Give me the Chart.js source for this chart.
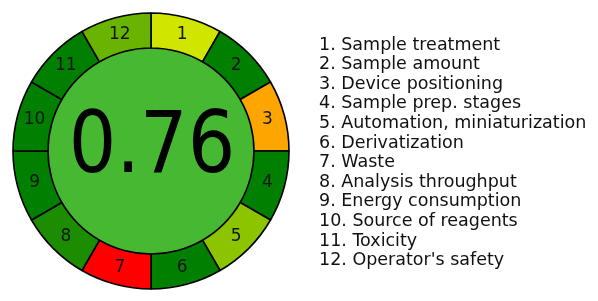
<!DOCTYPE html>
<html>
<head>
<meta charset="utf-8">
<script src="https://cdn.jsdelivr.net/npm/chart.js@4"></script>
<style>
  html, body { margin: 0; padding: 0; background: #ffffff; }
  #wrap { width: 598px; height: 301px; position: relative; }
</style>
</head>
<body>
<div id="wrap"><canvas id="agree"></canvas></div>
<script>
// AGREEprep pictogram data
const criteria = [
    'Sample treatment', 'Sample amount', 'Device positioning', 'Sample prep. stages',
    'Automation, miniaturization', 'Derivatization', 'Waste', 'Analysis throughput',
    'Energy consumption', 'Source of reagents', 'Toxicity', "Operator's safety"
];
const segmentNumbers = ['1', '2', '3', '4', '5', '6', '7', '8', '9', '10', '11', '12'];
const segmentSizes = [1, 1, 1, 1, 1, 1, 1, 1, 1, 1, 1, 1];
const segmentColors = [
    '#d0e600', '#007f00', '#ffa500', '#007f00', '#8cc400', '#007f00',
    '#ff0000', '#1c8c00', '#007f00', '#007f00', '#007f00', '#68b400'
];
const totalScore = '0.76';
const scoreColor = '#46b832';

// draws the numbers on the ring, the score and the legend list
const agreeText = {
    id: 'agreeText',
    afterDraw(chart) {
        const ctx = chart.ctx;
        const ring = chart.getDatasetMeta(0).data;

        ctx.save();
        ctx.fillStyle = '#151515';
        ctx.font = '17px "DejaVu Sans"';
        ctx.textAlign = 'center';
        ctx.textBaseline = 'middle';
        ring.forEach((arc, i) => {
            const p = arc.tooltipPosition();
            ctx.fillText(segmentNumbers[i], p.x, p.y);
        });

        // score, a bit narrower than the plain font
        const c = ring[0];
        ctx.save();
        ctx.translate(c.x + 1, c.y + 21);
        ctx.scale(0.88, 1);
        ctx.fillStyle = '#000000';
        ctx.font = '85px "DejaVu Sans"';
        ctx.textBaseline = 'alphabetic';
        ctx.fillText(totalScore, 0, 0);
        ctx.restore();

        // legend on the right
        ctx.textAlign = 'left';
        ctx.textBaseline = 'middle';
        ctx.fillStyle = '#111111';
        ctx.font = '17.5px "DejaVu Sans"';
        const top = 45, step = 19.6;
        criteria.forEach((name, i) => {
            ctx.fillText(segmentNumbers[i] + '. ' + name, 319, top + i * step);
        });
        ctx.restore();
    }
};

new Chart(document.getElementById('agree'), {
    type: 'doughnut',
    data: {
        labels: criteria,
        datasets: [
            {
                data: segmentSizes,
                backgroundColor: segmentColors,
                borderColor: '#000000',
                borderWidth: 1.6,
                borderAlign: 'center',
                weight: 35
            },
            {
                data: [1],
                backgroundColor: [scoreColor],
                borderWidth: 0,
                weight: 103
            }
        ]
    },
    options: {
        responsive: true,
        maintainAspectRatio: false,
        animation: false,
        cutout: 0,
        radius: 138,
        layout: { padding: { left: 0, right: 296, top: 1, bottom: 0 } },
        plugins: {
            legend: { display: false },
            tooltip: { enabled: false }
        }
    },
    plugins: [agreeText]
});
</script>
</body>
</html>
